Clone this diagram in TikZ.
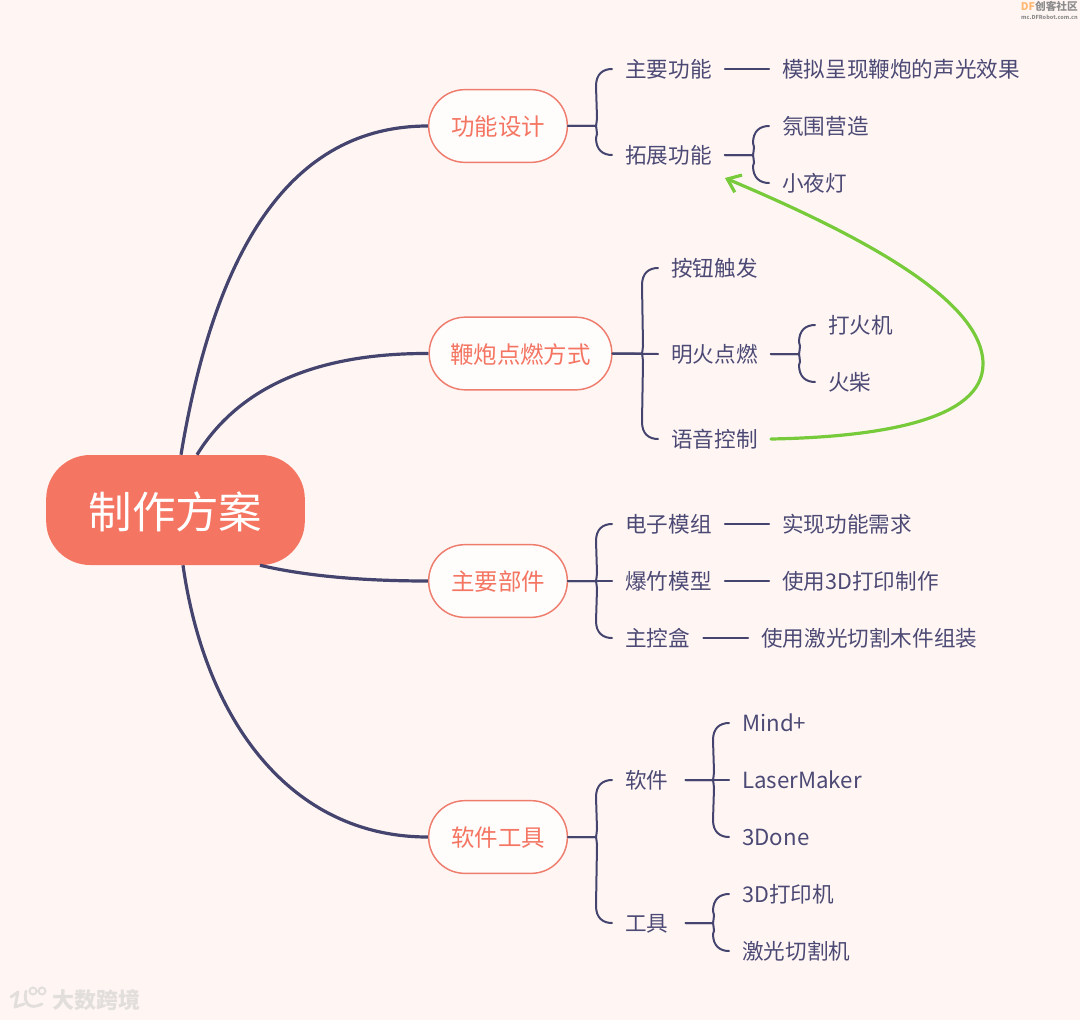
\documentclass[tikz,border=0pt]{standalone}
\usepackage{fontspec}
\setmainfont{Noto Sans CJK SC}
\usetikzlibrary{calc,arrows.meta}
\definecolor{bgc}{HTML}{FFF6F4}
\definecolor{navy}{HTML}{44446E}
\definecolor{ink}{HTML}{4C4A75}
\definecolor{coral}{HTML}{F47562}
\definecolor{coralline}{HTML}{EE7D6E}
\definecolor{grn}{HTML}{77CB3A}
\definecolor{wm}{HTML}{E2DEDC}
\tikzset{
  main/.style={line width=2.4pt,color=navy},
  sub/.style={line width=1.5pt,color=navy,line cap=round},
  topic/.style={anchor=west,inner xsep=9.75pt,inner ysep=0pt,text height=15.5pt,text depth=3.2pt,font=\fontsize{16.2}{18}\selectfont,text=ink},
  latin/.style={font=\fontsize{16.7}{18}\selectfont},
  wide/.style={text width=35.25pt,align=left},
  box/.style={draw=coralline,line width=1.1pt,fill=white!70!bgc,rounded corners=27pt,minimum height=54.5pt,inner xsep=0pt,inner ysep=0pt,text height=16pt,text depth=1.5pt,font=\fontsize{17.6}{20}\selectfont,text=coral},
}
% brace from the parent to one child; #3 = -1 child above, 1 child below
\newcommand{\bc}[3]{%
  \coordinate (j) at ($(#2.west |- #1.east)+(-16,0)$);
  \coordinate (c) at (#2.west);
  \draw[sub] (#1.east) -- (j) .. controls ($(j)+(0.5,#3*3)$) .. ($(j)+(1,#3*8)$)
     -- ($(c)+(-16,-#3*17)$) .. controls ($(c)+(-16,-#3*5)$) and ($(c)+(-9,0)$) .. (c);}
\begin{document}
\begin{tikzpicture}[x=0.75pt,y=-0.75pt]
\useasboundingbox (0,0) rectangle (1080,1020);
\fill[bgc] (0,0) rectangle (1080,1020);
% root
\node[fill=coral,rounded corners=33pt,minimum width=194pt,minimum height=82.5pt,text=white,inner sep=0pt,text height=30pt,text depth=3pt,font=\fontsize{32.6}{36}\selectfont] (root) at (175.5,510) {制作方案};
% main boxes
\node[box,minimum width=104pt] (b1) at (498,126) {功能设计};
\node[box,minimum width=137pt] (b2) at (520.5,353.5) {鞭炮点燃方式};
\node[box,minimum width=104pt] (b3) at (498,581) {主要部件};
\node[box,minimum width=104pt] (b4) at (498,837) {软件工具};
% topics
\node[topic] (a1) at (612,69) {主要功能};
\node[topic] (a2) at (612,155) {拓展功能};
\node[topic] (a11) at (769,69) {模拟呈现鞭炮的声光效果};
\node[topic] (a21) at (769,126) {氛围营造};
\node[topic] (a22) at (769,183) {小夜灯};
\node[topic] (c1) at (658,268) {按钮触发};
\node[topic] (c2) at (658,354) {明火点燃};
\node[topic] (c3) at (658,439) {语音控制};
\node[topic] (c21) at (815,325) {打火机};
\node[topic] (c22) at (815,382) {火柴};
\node[topic] (d1) at (612,524) {电子模组};
\node[topic] (d2) at (612,581) {爆竹模型};
\node[topic] (d3) at (612,638) {主控盒};
\node[topic] (d11) at (769,524) {实现功能需求};
\node[topic] (d21) at (769,581) {使用3D打印制作};
\node[topic] (d31) at (748,638) {使用激光切割木件组装};
\node[topic,wide] (e1) at (612,780) {软件};
\node[topic,wide] (e2) at (612,923) {工具};
\node[topic,latin] (e11) at (729,723) {Mind+};
\node[topic,latin] (e12) at (729,780) {LaserMaker};
\node[topic,latin] (e13) at (729,837) {3Done};
\node[topic] (e21) at (729,894) {3D打印机};
\node[topic] (e22) at (729,951) {激光切割机};
% root links
\draw[main] ($(root.north)+(5.5,0)$) .. controls (215,250) and (290,126) .. (b1.west);
\draw[main] ($(root.north)+(21.5,0)$) .. controls (240,385) and (320,353) .. (b2.west);
\draw[main] ($(root.south)+(84.5,0)$) .. controls (310,577) and (370,581) .. (b3.west);
\draw[main] ($(root.south)+(7.5,0)$) .. controls (205,720) and (290,837) .. (b4.west);
% sub links
\bc{b1}{a1}{-1} \bc{b1}{a2}{1}
\draw[sub] (a1.east) -- (a11.west);
\bc{a2}{a21}{-1} \bc{a2}{a22}{1}
\bc{b2}{c1}{-1} \bc{b2}{c3}{1}
\draw[sub] (b2.east) -- (c2.west);
\bc{c2}{c21}{-1} \bc{c2}{c22}{1}
\bc{b3}{d1}{-1} \bc{b3}{d3}{1}
\draw[sub] (b3.east) -- (d2.west);
\draw[sub] (d1.east) -- (d11.west);
\draw[sub] (d2.east) -- (d21.west);
\draw[sub] (d3.east) -- (d31.west);
\bc{b4}{e1}{-1} \bc{b4}{e2}{1}
\bc{e1}{e11}{-1} \bc{e1}{e13}{1}
\draw[sub] (e1.east) -- (e12.west);
\bc{e2}{e21}{-1} \bc{e2}{e22}{1}
% green relation
\coordinate (gtip) at ($(a2.east)+(0,23)$);
\draw[line width=2.4pt,color=grn,line cap=round,line join=round,-{Straight Barb[length=9pt,width=14pt,line width=2.4pt]}]
  (c3.east) .. controls (880,437) and (983,420) .. (983,364)
  .. controls (983,300) and (860,235) .. (gtip);
% watermarks
\node[anchor=west,inner sep=0pt,font=\fontsize{16.5}{18}\selectfont\bfseries,text=wm] (w1) at (52,1000) {大数跨境};
\draw[wm,line width=2.2pt,line cap=round,line join=round] (11,997) -- (18,992) -- (15,1007) -- (24,1004)
  (26,991) .. controls (23,1004) and (30,1010) .. (42,1004);
\draw[wm,line width=1.5pt] (33,991) circle[radius=3.5] (42,991) circle[radius=3.5];
\node[anchor=north east,inner sep=0pt,font=\fontsize{8}{10}\selectfont\bfseries,text=black!45] (w2) at (1078,1) {\textcolor{orange!55}{DF}创客社区};
\node[anchor=north east,inner sep=0pt,font=\fontsize{4.15}{6}\selectfont\bfseries,text=black!45] (w3) at (1078,14.5) {mc.DFRobot.com.cn};
\end{tikzpicture}
\end{document}
